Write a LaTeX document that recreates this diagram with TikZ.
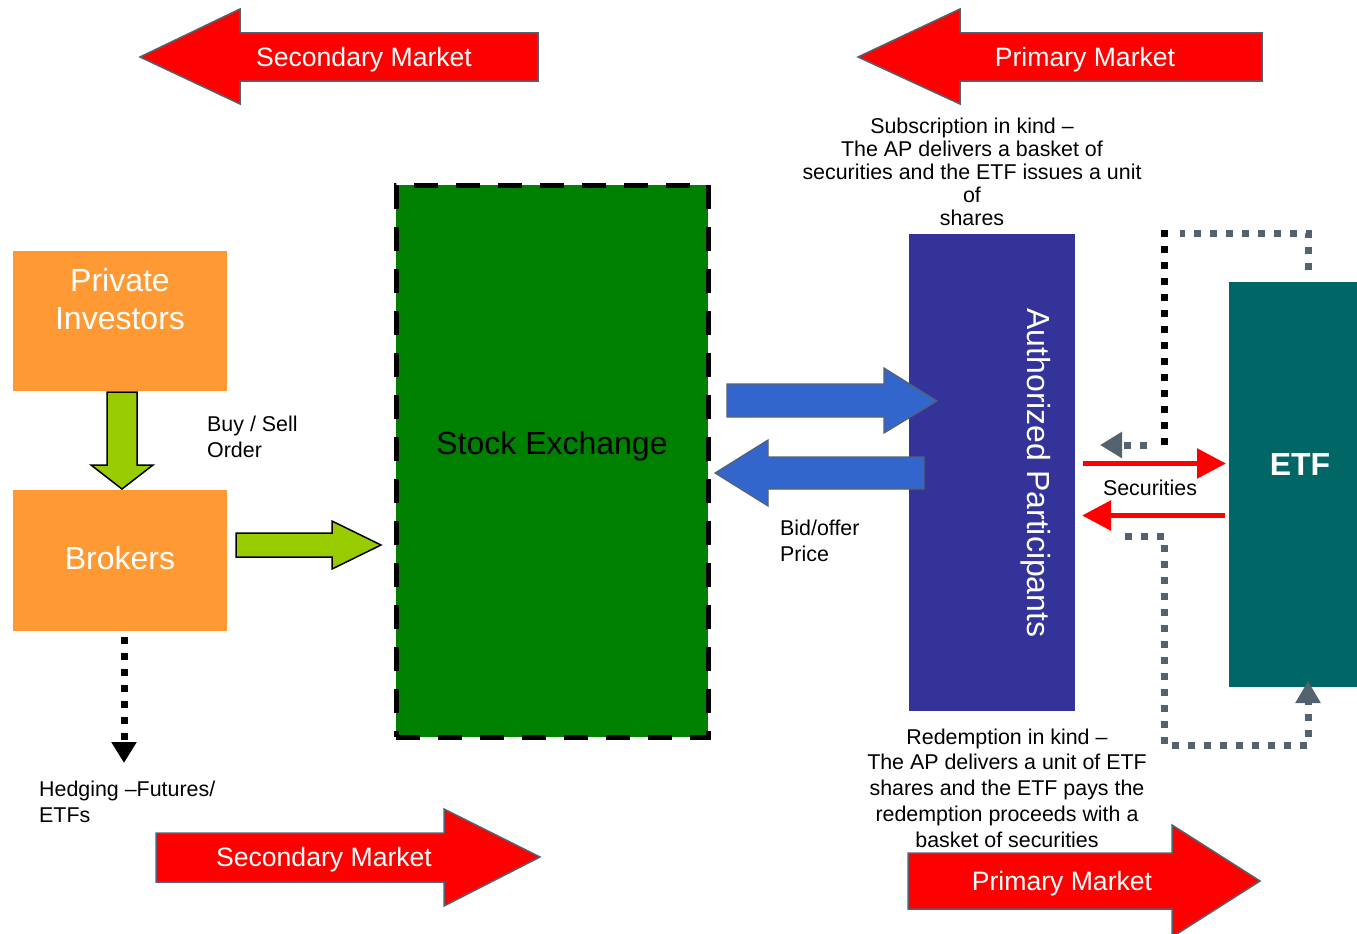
\documentclass[tikz,border=0pt]{standalone}
\usepackage{fontspec}
\setmainfont{Liberation Sans}
\usetikzlibrary{arrows.meta}
\definecolor{slate}{RGB}{84,98,112}
\definecolor{bigred}{RGB}{255,0,0}
\definecolor{orangebox}{RGB}{255,153,51}
\definecolor{limeg}{RGB}{153,204,0}
\definecolor{segreen}{RGB}{0,128,0}
\definecolor{blueA}{RGB}{51,102,204}
\definecolor{apblue}{RGB}{51,51,153}
\definecolor{etfteal}{RGB}{0,102,102}
\begin{document}
\begin{tikzpicture}[x=1pt,y=-1pt,
  bigarrow/.style={fill=bigred, draw=slate, line width=1.5pt, line join=miter},
  greenarrow/.style={fill=limeg, draw=black, line width=1.5pt, line join=miter},
  bluearrow/.style={fill=blueA, draw=slate, line width=1.2pt, line join=miter},
  bigtext/.style={text=white, font=\fontsize{26.6}{31}\selectfont, inner sep=0pt},
  boxtext/.style={text=white, font=\fontsize{32}{38}\selectfont, inner sep=0pt, align=center},
  smalltext/.style={text=black, font=\fontsize{21.4}{26}\selectfont, inner sep=0pt},
  block/.style={draw=none, inner sep=0pt, outer sep=0pt, anchor=north west},
  squaredots/.style={line width=7pt, dash pattern=on 7pt off 9pt},
  redarr/.style={draw=bigred, line width=5.5pt, -{Triangle[length=29pt,width=29pt]}},
]
\useasboundingbox (0,0) rectangle (1357,934);

% top and bottom market arrows
\draw[bigarrow] (140,57) -- (240,9) -- (240,33) -- (538,33) -- (538,81) -- (240,81) -- (240,104) -- cycle;
\node[bigtext] (smtop) at (364,60) {Secondary Market};
\draw[bigarrow] (858,57) -- (960,9) -- (960,33) -- (1262,33) -- (1262,81) -- (960,81) -- (960,104) -- cycle;
\node[bigtext] (pmtop) at (1085,60) {Primary Market};
\draw[bigarrow] (156,833) -- (444,833) -- (444,809) -- (540,857) -- (444,906) -- (444,882) -- (156,882) -- cycle;
\node[bigtext] (smbot) at (324,860) {Secondary Market};
\draw[bigarrow] (908,853) -- (1172,853) -- (1172,825) -- (1260,881) -- (1172,937) -- (1172,909) -- (908,909) -- cycle;
\node[bigtext] (pmbot) at (1062,884) {Primary Market};

% left boxes
\node[block, fill=orangebox, minimum width=214pt, minimum height=140pt] (pi) at (13,251) {};
\node[boxtext] (pitext) at (120,299) {Private\\Investors};
\node[block, fill=orangebox, minimum width=214pt, minimum height=141pt] (br) at (13,490) {};
\node[boxtext] (brtext) at (120,558) {Brokers};

\draw[greenarrow] (107,392) -- (137,392) -- (137,465) -- (153,465) -- (122,489) -- (91,465) -- (107,465) -- cycle;
\draw[greenarrow] (236,533) -- (332,533) -- (332,521) -- (381,545) -- (332,569) -- (332,557) -- (236,557) -- cycle;

\node[smalltext, align=left, anchor=west] (bso) at (207,437) {Buy / Sell\\Order};

\draw[squaredots, black, shorten <=6pt, -{Triangle[length=21pt,width=24pt]}] ([xshift=4pt]br.south) -- ++(0,132);
\node[smalltext, align=left, anchor=west] (hedge) at (39,802) {Hedging --Futures/\\ETFs};

% stock exchange
\node[block, fill=segreen, draw=black, line width=5pt, dash pattern=on 24pt off 18pt, minimum width=312pt, minimum height=552pt] (se) at (396,185) {};
\node[text=black, font=\fontsize{32}{38}\selectfont, inner sep=0pt] (setext) at (552,446) {Stock Exchange};

% authorized participants
\node[block, fill=apblue, minimum width=166pt, minimum height=477pt] (ap) at (909,234) {};
\node[boxtext, rotate=-90] (aptext) at (1036,473) {Authorized Participants};

\draw[bluearrow] (727,384) -- (884,384) -- (884,368) -- (937,401) -- (884,433) -- (884,417) -- (727,417) -- cycle;
\draw[bluearrow] (715,473) -- (768,440) -- (768,457) -- (924,457) -- (924,489) -- (768,489) -- (768,506) -- cycle;
\node[smalltext, align=left, anchor=west] (bid) at (780,541) {Bid/offer\\Price};

% ETF
\node[block, fill=etfteal, minimum width=128pt, minimum height=405pt] (etf) at (1229,282) {};
\node[text=white, font=\fontsize{32}{38}\selectfont\bfseries, inner sep=0pt] (etftext) at (1300,464) {ETF};

% securities arrows
\draw[redarr, shorten <=8pt, shorten >=3pt] (ap.east |- 0,463.5) -- (etf.west |- 0,463.5);
\draw[redarr, shorten <=4pt, shorten >=7pt] (etf.west |- 0,515.5) -- (ap.east |- 0,515.5);
\node[smalltext] (sec) at (1150,488) {Securities};

% dotted creation / redemption connectors
\draw[squaredots, slate] (1308,270) -- (1308,233) -- (1180,233);
\draw[squaredots, black] (1164,229.5) -- (1164,449);
\draw[squaredots, slate, -{Triangle[length=22pt,width=25pt]}] (1147,445) -- (1100,445);
\draw[squaredots, slate, -{Triangle[length=22pt,width=24pt]}] (1125,536) -- (1164,536) -- (1164,745) -- (1308,745) -- (1308,681);

% explanatory texts
\node[smalltext, align=center, font=\fontsize{21.4}{23}\selectfont] (subs) at (972,172) {Subscription in kind --\\The AP delivers a basket of\\securities and the ETF issues a unit\\of\\shares};
\node[smalltext, align=center, font=\fontsize{21.4}{25.7}\selectfont] (redm) at (1007,788) {Redemption in kind --\\The AP delivers a unit of ETF\\shares and the ETF pays the\\redemption proceeds with a\\basket of securities};
\end{tikzpicture}
\end{document}
